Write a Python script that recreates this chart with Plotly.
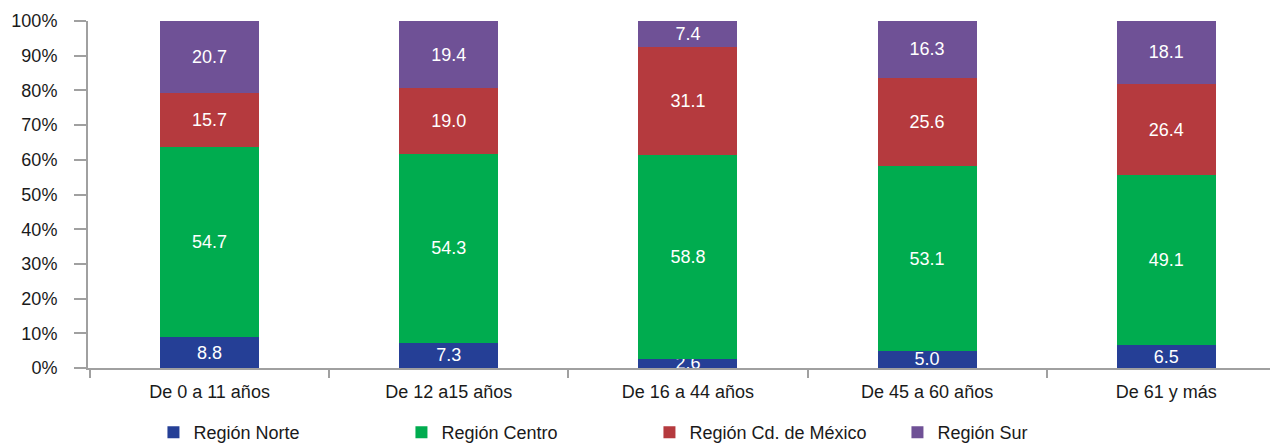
import plotly.graph_objects as go

categories = ["De 0 a 11 años", "De 12 a15 años", "De 16 a 44 años", "De 45 a 60 años", "De 61 y más"]

norte = [8.8, 7.3, 2.6, 5.0, 6.5]
centro = [54.7, 54.3, 58.8, 53.1, 49.1]
cdmx = [15.7, 19.0, 31.1, 25.6, 26.4]
sur = [20.7, 19.4, 7.4, 16.3, 18.1]

series = [
    ("Región Norte", norte, "#253F96"),
    ("Región Centro", centro, "#00AC4F"),
    ("Región Cd. de México", cdmx, "#B53A3E"),
    ("Región Sur", sur, "#6F5196"),
]

fig = go.Figure()
for name, vals, color in series:
    fig.add_trace(go.Bar(
        x=categories,
        y=vals,
        name=name,
        marker=dict(color=color, line=dict(width=0)),
        text=[f"{v:.1f}" for v in vals],
        textposition="inside",
        insidetextanchor="middle",
        constraintext="none",
        textfont=dict(color="white", size=18, family="Liberation Sans, Arial, sans-serif"),
        width=0.414,
    ))

# page body has an 8px margin, so the figure is sized to fit the window;
# the original chart is cut off at the right edge, hence the short x range
fig.update_layout(
    barmode="stack",
    barnorm="percent",
    width=1270,
    height=436,
    margin=dict(l=80, r=0, t=13, b=76, autoexpand=False),
    plot_bgcolor="white",
    paper_bgcolor="white",
    font=dict(family="Liberation Sans, Arial, sans-serif", size=18, color="#1a1a1a"),
    showlegend=True,
    legend=dict(
        orientation="h",
        x=0.055, xanchor="left",
        y=-0.186, yanchor="middle",
        entrywidth=203,
        entrywidthmode="pixels",
        font=dict(size=18),
        traceorder="normal",
        tracegroupgap=0,
    ),
    xaxis=dict(
        range=[-0.508, 4.467],
        showline=True, linecolor="#a0a0a0", linewidth=2,
        ticks="outside", tickson="boundaries", ticklen=8, tickcolor="#a0a0a0", tickwidth=2,
        ticklabelstandoff=6,
        showgrid=False,
    ),
    yaxis=dict(
        range=[0, 100], dtick=10, ticksuffix="%",
        showline=True, linecolor="#a0a0a0", linewidth=2,
        ticks="outside", ticklen=12, tickcolor="#a0a0a0", tickwidth=2,
        ticklabelstandoff=13,
        showgrid=False, zeroline=False,
    ),
)

fig.write_html("out.html")
